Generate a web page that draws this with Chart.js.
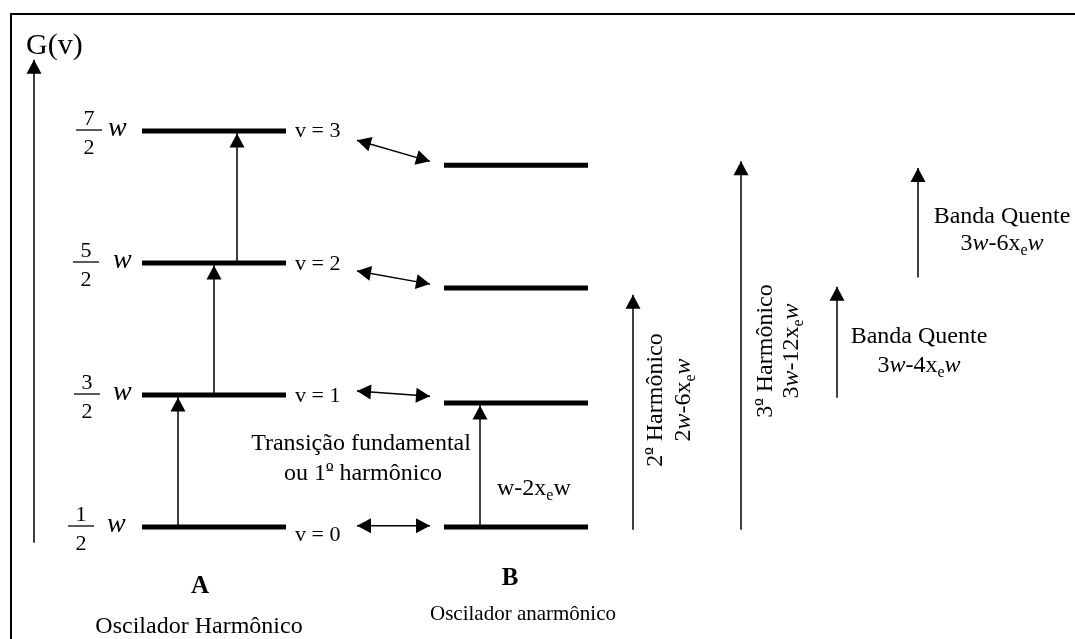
<!DOCTYPE html>
<html><head><meta charset="utf-8">
<script src="https://cdn.jsdelivr.net/npm/chart.js@4.4.1/dist/chart.umd.min.js"></script>
<style>html,body{margin:0;padding:0;background:#fff;overflow:hidden}#wrap{width:1075px;height:639px}</style>
</head><body><div id="wrap"><canvas id="c" width="1075" height="639"></canvas></div>
<script>
// ---------- data (energies in units of w) ----------
const vLabels = ['v = 0', 'v = 1', 'v = 2', 'v = 3'];
const harmonicLevels = [0.5, 1.5, 2.5, 3.5];
const harmonicNumerators = ['1', '3', '5', '7'];
const anharmonicLevels = [0.5, 1.44, 2.31, 3.24];
const fundamentalA = [[0, 1], [1, 2], [2, 3]];
const fundamentalB = [[0, 1]];
const bandNames = ['2º Harmônico', '3º Harmônico', 'Banda Quente', 'Banda Quente'];
const bandFormulas = ['2*w*-6x_e*w*', '3*w*-12x_e*w*', '3*w*-4x_e*w*', '3*w*-6x_e*w*'];
const bandStart = [0.48, 0.48, 1.48, 2.39];
const bandEnd = [2.26, 3.27, 2.32, 3.22];
const connectorLeft = [0.51, 1.53, 2.44, 3.43];
const connectorRight = [0.51, 1.49, 2.34, 3.27];
const axisRange = [0.38, 4.04];
const axisTitle = 'G(v)';
const columnTitles = ['A', 'B'];
const columnNames = ['Oscilador Harmônico', 'Oscilador anarmônico'];
const fundamentalText = ['Transição fundamental', 'ou 1º harmônico'];
const fundamentalBFormula = 'w-2x_ew';

// ---------- layout / style ----------
const FONT = "'Liberation Serif','Times New Roman',serif";
const LAY = {
  colA: [142, 286], colB: [444, 588], levelWidth: 5, shaftWidth: 1.5,
  axisX: 34, fundAX: [178, 214, 237], fundBX: [480],
  bandX: [633, 741, 837, 918], connX: [357, 430],
  headLen: 14, headHalf: 7.5,
  fracX: [81, 87, 86, 89], wX: [107, 113, 113, 108],
  vLabelX: 295, vLabelDy: [14, 7, 7, 6]
};

const datasets = [];
const lineDs = (pts, w, extra) => Object.assign({
  type: 'line', data: pts, borderColor: '#000', backgroundColor: '#000',
  borderWidth: w, pointRadius: 0, borderCapStyle: 'butt', fill: false, tension: 0
}, extra || {});

harmonicLevels.forEach(E => datasets.push(lineDs([{x: LAY.colA[0], y: E}, {x: LAY.colA[1], y: E}], LAY.levelWidth)));
anharmonicLevels.forEach(E => datasets.push(lineDs([{x: LAY.colB[0], y: E}, {x: LAY.colB[1], y: E}], LAY.levelWidth)));
// G(v) axis arrow
datasets.push(lineDs([{x: LAY.axisX, y: axisRange[0]}, {x: LAY.axisX, y: axisRange[1]}], LAY.shaftWidth, {arrow: 'end'}));
// fundamental transitions
fundamentalA.forEach(([a, b], i) => datasets.push(lineDs([{x: LAY.fundAX[i], y: harmonicLevels[a]}, {x: LAY.fundAX[i], y: harmonicLevels[b]}], LAY.shaftWidth, {arrow: 'end', tipGap: 2.5})));
fundamentalB.forEach(([a, b], i) => datasets.push(lineDs([{x: LAY.fundBX[i], y: anharmonicLevels[a]}, {x: LAY.fundBX[i], y: anharmonicLevels[b]}], LAY.shaftWidth, {arrow: 'end', tipGap: 2.5})));
// overtone / hot bands
bandStart.forEach((s, i) => datasets.push(lineDs([{x: LAY.bandX[i], y: s}, {x: LAY.bandX[i], y: bandEnd[i]}], LAY.shaftWidth, {arrow: 'end'})));
// correspondence connectors
connectorLeft.forEach((l, i) => datasets.push(lineDs([{x: LAY.connX[0], y: l}, {x: LAY.connX[1], y: connectorRight[i]}], LAY.shaftWidth, {arrow: 'both'})));

function parseRich(s) {
  const segs = []; let it = false;
  for (let i = 0; i < s.length; i++) {
    const c = s[i];
    if (c === '*') { it = !it; continue; }
    if (c === '_') { segs.push({t: s[++i], it, sub: true}); continue; }
    if (c === 'º') { segs.push({t: c, it, sub: false, ord: true}); continue; }
    const last = segs[segs.length - 1];
    if (last && last.it === it && !last.sub && !last.ord) last.t += c; else segs.push({t: c, it, sub: false});
  }
  return segs;
}
function drawRich(ctx, s, x, y, size, align, bold) {
  const segs = parseRich(s);
  const fontOf = g => `${g.it ? 'italic ' : ''}${bold ? 'bold ' : ''}${g.sub ? Math.round(size * 0.65) : size}px ${FONT}`;
  let w = 0;
  segs.forEach(g => { ctx.font = fontOf(g); g.w = ctx.measureText(g.t).width; w += g.w; });
  let cx = align === 'center' ? x - w / 2 : align === 'right' ? x - w : x;
  ctx.textAlign = 'left'; ctx.textBaseline = 'alphabetic';
  segs.forEach(g => {
    ctx.font = fontOf(g);
    ctx.fillText(g.t, cx, y + (g.sub ? size * 0.22 : 0));
    if (g.ord) {
      ctx.save(); ctx.lineWidth = 1; ctx.beginPath();
      ctx.moveTo(cx + 0.5, y - size * 0.40); ctx.lineTo(cx + g.w - 0.5, y - size * 0.40); ctx.stroke(); ctx.restore();
    }
    cx += g.w;
  });
}

const framePlugin = {
  id: 'frame',
  beforeDraw(chart) {
    const ctx = chart.ctx;
    ctx.save(); ctx.fillStyle = '#fff'; ctx.fillRect(0, 0, chart.width, chart.height);
    ctx.strokeStyle = '#000'; ctx.lineWidth = 2;
    ctx.beginPath(); ctx.moveTo(11, chart.height); ctx.lineTo(11, 14); ctx.lineTo(chart.width, 14); ctx.stroke();
    ctx.restore();
  }
};

const arrowPlugin = {
  id: 'arrows',
  afterDatasetsDraw(chart) {
    const ctx = chart.ctx; ctx.save(); ctx.fillStyle = '#000';
    chart.data.datasets.forEach((ds, i) => {
      if (!ds.arrow) return;
      const pts = chart.getDatasetMeta(i).data;
      const a = pts[0], b = pts[pts.length - 1];
      const heads = ds.arrow === 'both' ? [[a, b], [b, a]] : [[a, b]];
      heads.forEach(([f, t]) => {
        const dx = t.x - f.x, dy = t.y - f.y, len = Math.hypot(dx, dy);
        const ux = dx / len, uy = dy / len, gap = ds.tipGap || 0;
        const tx = t.x - ux * gap, ty = t.y - uy * gap;
        const bx = tx - ux * LAY.headLen, by = ty - uy * LAY.headLen;
        ctx.beginPath(); ctx.moveTo(tx, ty);
        ctx.lineTo(bx - uy * LAY.headHalf, by + ux * LAY.headHalf);
        ctx.lineTo(bx + uy * LAY.headHalf, by - ux * LAY.headHalf);
        ctx.closePath(); ctx.fill();
      });
    });
    ctx.restore();
  }
};

const textPlugin = {
  id: 'texts',
  afterDraw(chart) {
    const ctx = chart.ctx, ys = chart.scales.y;
    ctx.save(); ctx.fillStyle = '#000'; ctx.strokeStyle = '#000';
    drawRich(ctx, axisTitle, 26, 54, 30, 'left');
    // fractions & v labels
    harmonicLevels.forEach((E, i) => {
      const L = ys.getPixelForValue(E), fx = LAY.fracX[i];
      drawRich(ctx, harmonicNumerators[i], fx, L - 6, 22, 'center');
      drawRich(ctx, '2', fx, L + 23, 22, 'center');
      ctx.lineWidth = 1.3; ctx.beginPath(); ctx.moveTo(fx - 13, L - 1); ctx.lineTo(fx + 13, L - 1); ctx.stroke();
      drawRich(ctx, '*w*', LAY.wX[i], L + 5, 28, 'left');
      drawRich(ctx, vLabels[i], LAY.vLabelX, L + LAY.vLabelDy[i], 22, 'left');
    });
    drawRich(ctx, fundamentalText[0], 361, 450, 24, 'center');
    drawRich(ctx, fundamentalText[1], 363, 480, 24, 'center');
    drawRich(ctx, fundamentalBFormula, 497, 495, 24, 'left');
    drawRich(ctx, columnTitles[0], 200, 593, 25, 'center', true);
    drawRich(ctx, columnTitles[1], 510, 585, 25, 'center', true);
    drawRich(ctx, columnNames[0], 199, 633, 24, 'center');
    drawRich(ctx, columnNames[1], 523, 620, 21, 'center');
    // rotated band labels
    const rot = [[662, 690, 400], [772, 798, 351]];
    rot.forEach(([bx1, bx2, cy], i) => {
      ctx.save(); ctx.translate(bx1, cy); ctx.rotate(-Math.PI / 2); drawRich(ctx, bandNames[i], 0, 0, 24, 'center'); ctx.restore();
      ctx.save(); ctx.translate(bx2, cy); ctx.rotate(-Math.PI / 2); drawRich(ctx, bandFormulas[i], 0, 0, 24, 'center'); ctx.restore();
    });
    const hor = [[919, 343, 372], [1002, 223, 250]];
    hor.forEach(([cx, b1, b2], k) => {
      drawRich(ctx, bandNames[k + 2], cx, b1, 24, 'center');
      drawRich(ctx, bandFormulas[k + 2], cx, b2, 24, 'center');
    });
    ctx.restore();
  }
};

new Chart(document.getElementById('c'), {
  type: 'line',
  data: {datasets},
  options: {
    responsive: false, devicePixelRatio: 1, animation: false, events: [],
    layout: {padding: 0},
    plugins: {legend: {display: false}, tooltip: {enabled: false}},
    scales: {
      x: {type: 'linear', display: false, min: 0, max: 1075},
      y: {type: 'linear', display: false, min: 0.5 - 112 / 132, max: 0.5 + 527 / 132}
    }
  },
  plugins: [framePlugin, arrowPlugin, textPlugin]
});
</script></body></html>
